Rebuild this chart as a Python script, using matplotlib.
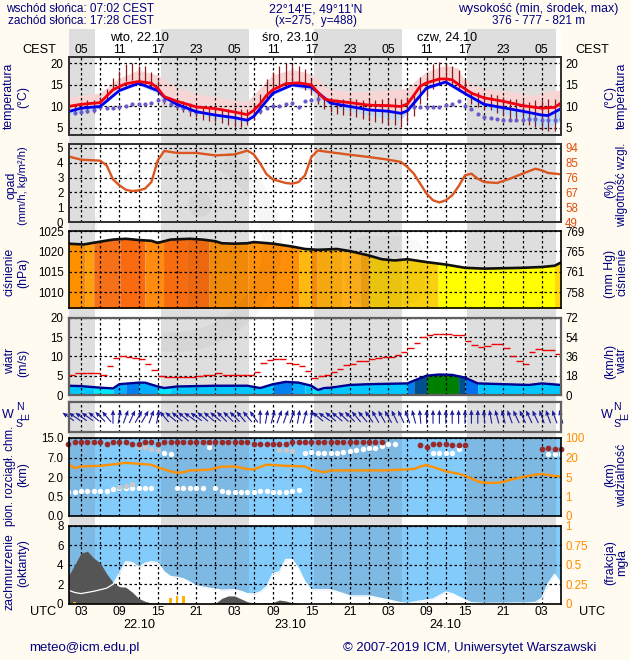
import numpy as np
import matplotlib
matplotlib.use("Agg")
import matplotlib.pyplot as plt
from matplotlib.patches import Wedge, Circle, FancyBboxPatch

plt.rcParams['font.family'] = ['Liberation Sans', 'DejaVu Sans']

# ---- data (hours since 22.10 00 UTC) ----
night = [(1.125, 5.2), (15.5, 29.2), (39.4, 53.2), (63.3, 77.2)]

t_h = [1,3,6,8,10,12,14,15,16,18,21,24,27,29,30,31,32,33,35,37,39,40,41,42,45,48,51,53,54,55,56,57,59,60,61,62,63,64,66,69,72,75,77,78]
t_red = [10,10.5,10.9,13.9,15.3,15.8,15.4,14.2,12.3,11.2,9.9,9.5,8.7,8.1,9.1,10.6,12.6,13.9,15.3,15.5,15,13.3,11.8,11.4,10.9,10.3,10.2,10,10.6,12.6,14.7,15.5,16.4,16.4,16.2,15.1,14.1,13.1,12,11.2,10.2,9.6,9.8,10.8]
b_h = [1,3,6,9,12,15,16,18,21,24,27,29,30,33,36,39,42,45,48,51,53,54,57,60,63,66,69,72,75,76,78]
t_blue = [8.8,9.6,10,13.7,15.4,13.7,12.2,10.5,8.8,8,7.4,6.8,7.7,13.1,15,14.5,10.8,10,9.2,8.9,8.4,9,14.3,15.7,13,10.5,9.7,8.9,8,7.9,9.5]
pink_h = [1,6,9,12,15,18,21,27,29,33,36,39,42,45,51,54,57,60,62,63,66,72,74,75,78]
pink_up = [12,13,16.4,18.4,17.2,14.3,12.9,11.4,11,17.2,18.5,17.5,13.9,13.3,13.7,14.1,18,19.5,18.8,16,14.1,13,12.4,13.3,13.7]
low_h = [1,6,9,12,15,18,24,29,33,36,39,42,48,53,57,60,63,66,69,72,75,76,78]
blue_low = [8,9.5,13.3,14.9,13,9.8,7.1,6.2,12.5,14.6,13.6,9.8,7.9,6.7,13.7,15.3,12.6,9.7,8.3,7.1,5.2,5,6.4]
dew_h = [2,3,4,5,6,7,8,9,10,11,12,13,14,15,16,17,18,19,20,21,31,32,33,34,35,36,37,38,39,40,55,56,57,58,59,60,61,62,63,64,65,66,67,68,69,70,71,72,73,74,75,76,77,78]
dew = [8.5,8.8,8.9,9.1,9.9,9.7,9.6,9.9,10.2,10.5,10.5,10.6,10.8,11.5,11.4,10.6,10,9.7,9.1,8.7,8.9,9.7,10.2,10.2,10.5,10.8,9.9,11.2,11.5,11.8,9.9,9.9,9.9,9.8,9.9,10.3,10.6,11.2,10.1,9.4,8.2,7.6,7.4,7,6.9,6.8,6.8,6.9,7.2,7.1,6.9,6.8,6.9,7.2]
bar_h = list(range(2, 78))
bar_top = [10.5,11,11.4,11.4,12.2,14.1,16.7,18.2,19.8,20.2,19.5,19.4,18,16,12.6,12,11.4,11.2,10.8,10.2,10.2,9.8,9.7,9.7,9.5,9.5,9.5,9.5,10.6,12.9,16.4,18.1,19.3,20.2,19.9,19.4,18.8,16.4,13.7,12.2,11.9,11.7,11.8,11.9,11.7,11.4,11.8,11.6,11.8,11.8,11.9,11.8,12.2,12.6,16.8,17.4,19.8,20.3,19.9,19.4,18.4,16.4,13.7,13.3,12.6,12.9,12.6,12.2,11.8,11.8,11.4,11,11.4,11.4,11.8,11.8]
bar_bot = [8.3,8.4,8.4,8.4,10,11.4,14.3,15.1,15.9,16.2,15.8,15.3,14.5,13.3,10.6,10,9.5,8.7,7.9,7.5,6.9,6.6,6.4,6.1,5.8,5.3,5.3,5.8,6.9,8.3,11.4,13.3,14.3,15.3,15.1,14.7,13.9,12.9,10.6,9.5,8.7,8.3,8.1,7.9,7.5,7.1,6.7,6.4,6.1,5.8,5.6,5.2,6.4,7.9,10.6,12.2,14.1,14.9,15.3,14.9,14.1,12.6,10.6,9.8,9.5,9.1,8.4,7.9,7.1,6.7,6.4,5.8,5.2,4.8,4.4,4.3]

rh_h = [1,3,6,7,8,9,10,11,12,13,14,15,16,18,21,24,27,29,30,31,32,33,35,36,37,38,39,40,42,45,48,51,53,54,55,56,57,58,59,60,61,62,63,64,65,66,68,70,72,74,75,76,78]
rh = [88.9,86.9,86.3,83.5,74.9,71.3,68.6,67.8,68.2,69.3,73.3,86.5,92.2,91,91,89.5,90.1,92.4,90.1,84.5,78,74.9,72.7,72.3,73.3,77.4,88.5,92.5,91.4,89.9,88.5,86.9,85.5,82.4,78.4,72.3,66.2,62.2,60.9,62.2,65.2,70.7,77.4,78.4,75.3,73.3,72.7,75.3,78.4,81.4,80.4,78.8,78]

p_h = [1,3.4,6,8,10,12,14,15,17,20,22,24,25,27,29,30,33,36,38,39,40,43,45,48,50,52,54,57,60,63,66,72,75,77,78]
pres = [1021.9,1021.7,1022.4,1022.9,1023.1,1022.8,1022.6,1022.1,1022.9,1023.1,1022.9,1022.5,1022,1021.9,1022,1022.3,1021.9,1021.2,1020.6,1020.5,1020.4,1020.6,1020.1,1019,1018.1,1017.8,1018.1,1017.4,1016.8,1016,1015.8,1016,1016.2,1016.5,1017.3]
p_edges = [1.125,3.1,3.6,5,9.1,13,15.9,19.5,23,29.1,37,39,39.9,43.7,46.6,48,53.1,58.8,77,78]
p_cols = ['#FF9000','#F88808','#FFA010','#F57018','#FA6A10','#FF8B10','#F86C10','#EC6810','#F08808','#FF8F08','#FFB810','#F88C08','#F5A810','#FFB018','#F0A010','#F0C810','#F8D010','#FFFF00','#FFD810']

w_h = [1,3,6,8,9,12,13,15,16,18,24,29,31,33,35,37,39,40,41,42,45,48,54,55,57,59,61,63,65,69,73,75,78]
wind = [2.4,2.3,1.9,1.7,2.8,3.2,3.2,2.2,1.8,2.2,2.4,2.4,1.8,2.8,3.4,3.2,2.4,1.3,1.8,1.9,2.6,2.8,3,3.7,5,5.3,5.2,4.5,3,2.8,2.6,3,2.6]
w_edges = [1.125,5,8,10,12,15,17,33,36,38,39.3,40,54,55,57,62,63,65,78]
w_cols = ['#00C8FF','#00E8FF','#00B0FF','#0080F0','#00B0FF','#00E8FF','#00C8FF','#0080F0','#00B0FF','#00C8FF','#00E8FF','#00C8FF','#0080F0','#005090','#008000','#005090','#0070F0','#00C8FF']
gust = [5.3,5.6,5.6,5.6,5.6,5.3,7.5,9.6,10,9.8,9.6,9.2,8,6.4,4.9,4.7,4.7,4.7,4.7,4.7,4.9,5.2,5.2,5.6,5.3,5.3,5.3,5.3,5.3,5.9,8.4,9,9.2,9.2,8.4,8,7.5,6.2,4.4,4.9,5.3,6,6.7,7.7,8,8.8,8.8,9.2,9.6,9.8,9.8,10.3,11.1,12.2,13.4,15,15.5,15.8,15.8,15.8,15.5,15.5,13.9,12.9,12.4,12.7,13.2,13.2,12.2,10.1,8.7,8,11,11.8,11.6,11.6,10.5]
wdir = [-55,-55,-55,-55,-50,-45,-40,0,10,20,25,30,30,20,10,-40,-50,-50,-50,-55,-55,-50,-50,-50,-45,-45,-45,-40,-40,-35,0,10,15,20,20,20,10,15,10,-50,-55,-50,-50,-45,-45,-40,-40,-35,-30,-30,-30,-25,-25,-20,-15,-5,0,0,0,0,0,0,0,0,0,-5,-10,-15,-15,-20,-25,-25,-25,-25,-20,-20,-20,-15]

cb_top_h = list(range(1,51)) + [56,57,58,59,60,61,62,63,75,76,77,78]
cb_top = [12.7,13.5,13.5,13.5,13.5,13.5,12.7,13.5,13.5,13.5,12.7,12.7,13.5,13.5,12.7]+[13.5]*14+[12.7]*6+[13.5]*15+[12,11.2,12.7,12.7,12.7,12,12,12,10.4,10.8,10.4,10.4]
cb_white_h = [1,2,3,4,5,6,7,8,9,10,11,12,13,14,18,19,20,21,22,24,25,26,27,28,29,30,31,32,33,34,35,36,37]
cb_white = [.87,.87,.89,.92,.92,.92,.94,1.05,1.13,1.13,1.15,1.13,1.13,1.13,1.13,1.13,1.13,1.18,1.18,1.13,.94,.87,.87,.87,.87,.87,.89,.89,.87,.87,.87,.92,.98]
cb_up_h = [16,17,23,38,39,40,41,42,43,44,45,46,47,48,49,50,51,52,58,59,60,61,62,76,77,78]
cb_up = [8.7,8.4,11.2,9,9.3,9,9,9,9,9.3,9.6,10,10.4,10.9,11,11.6,12.4,12.4,8.7,8.7,8.7,8.7,10.5,8.4,8.4,8.4]
cb_gray_h = [9,10,11,12,13,14,15,34,35,36]
cb_gray = [1.26,1.3,1.46,11.2,11.2,10.5,10,10,10,9.7]

vis_h = [1,2,3,6,8,10,12,14,15,17,18,19,20,23,25,27,29,30,32,35,38,39,40,41,42,45,50,53,55,56,57,59,60,62,63,65,66,68,69,70,72,74,75,77,78]
vis = [14.9,11.9,13.1,13.6,14.7,15.9,15.2,14.4,12.4,9.3,8.3,8.6,10.1,10.6,12.9,13.1,11.1,10.8,14.5,13.6,13.1,10.6,9.8,8.6,10.1,10.1,10.1,10.6,11.1,13.1,14.2,11.1,9.3,7.5,6,4.1,3.8,3.8,4,4.4,5,6.8,7.3,5.8,5.5]

low_h_c = [1,2,3,4,5,6,7,8,9,10,11,12,13,14,15,24,25,26,27,28,29,30,33,34,35,36,37,78]
cl_low = [2.8,4,5.2,5.4,4.7,4.2,3.1,2.2,1.75,1.7,1.2,.55,.25,.07,.03,.03,.55,.8,.8,.5,.2,.06,.13,.38,.28,.1,0,0]
mist_h = [1,2,3,5,7,8,9,10,11,12,13,14,15,16,17,18,19,20,21,23,25,27,28,29,30,31,32,33,34,35,36,37,38,39,41,42,44,45,48,51,53,54,56,58,60,61,62,63,64,66,73,74,75,76,77,78]
mist = [.175,.145,.13,.16,.2,.25,.39,.54,.53,.47,.52,.54,.53,.41,.35,.34,.32,.28,.23,.2,.175,.18,.16,.13,.125,.15,.22,.39,.41,.57,.57,.45,.28,.18,.18,.18,.13,.1,.1,.05,.013,.005,.035,.06,.15,.13,.09,.05,.013,.005,.01,.017,.07,.26,.38,.26]
rain_h = [2,17,18,19]
rain = [.15,.55,.8,.8]

hour_ticks = [3,9,15,21,27,33,39,45,51,57,63,69,75]
cest_lab = ['05','11','17','23','05','11','17','23','05','11','17','23','05']
utc_lab = ['03','09','15','21','03','09','15','21','03','09','15','21','03']

W, H = 630, 660
NAVY = '#000080'
BG = '#FFFBF0'
TICK = 8.0
fig = plt.figure(figsize=(W/100, H/100), dpi=100, facecolor=BG)
X0, PPH = 61.8, 6.4
def hx(h): return X0 + PPH*h
XL = (1.125, 78.0)

bg = fig.add_axes([0, 0, 1, 1])
bg.set_xlim(-X0/PPH, (W-X0)/PPH)
bg.set_ylim(H, 0)
bg.axis('off')
bg.axvspan(XL[0], XL[1], ymin=1-601/H, ymax=1-29/H, color='white', lw=0)
for a, b in night:
    bg.axvspan(a, b, ymin=1-601/H, ymax=1-29/H, color='#DEDEDE', lw=0)

def txt(x, y, s, **k):
    k.setdefault('color', NAVY); k.setdefault('fontsize', 9.2)
    k.setdefault('ha', 'center'); k.setdefault('va', 'center')
    fig.text(x/W, 1-y/H, s, **k)

def panel(y0, y1, ylim, yticks, ylabels, edge='#303030', lw=1.4):
    ax = fig.add_axes([69/W, 1-y1/H, (561-69)/W, (y1-y0)/H])
    ax.set_facecolor('none')
    ax.set_xlim(*XL); ax.set_ylim(*ylim)
    ax.set_xticks(np.arange(3, 78, 3)); ax.set_xticklabels([])
    ax.set_yticks(yticks); ax.set_yticklabels(ylabels, fontsize=TICK+0.3)
    ax.tick_params(length=0, pad=4)
    ax.grid(True, color='black', lw=0.9, ls=(0, (2, 2)), zorder=6)
    ax.set_axisbelow(False)
    for s in ax.spines.values():
        s.set_color(edge); s.set_linewidth(lw); s.set_zorder(8)
    return ax

def right(ax, ticks, labels, color='black'):
    ax2 = ax.twinx()
    ax2.set_ylim(ax.get_ylim())
    ax2.set_yticks(ticks); ax2.set_yticklabels(labels, fontsize=TICK+0.3, color=color)
    ax2.tick_params(length=0, pad=3)
    ax2.set_facecolor('none')
    for s in ax2.spines.values():
        s.set_visible(False)
    return ax2

# temperature
a1 = panel(57, 135, (3.37, 21.5), [5,10,15,20], ['5','10','15','20'])
right(a1, [5,10,15,20], ['5','10','15','20'])
a1.fill(np.r_[pink_h, b_h[::-1]], np.r_[pink_up, t_blue[::-1]], color='#F8D5D5', lw=0, zorder=1)
a1.fill(np.r_[b_h, low_h[::-1]], np.r_[t_blue, blue_low[::-1]], color='#BCDCFA', lw=0, zorder=2)
a1.vlines(bar_h, bar_bot, bar_top, color='#8C1A1A', lw=0.9, zorder=3)
a1.scatter(dew_h, dew, s=9, color='#6A5CC8', lw=0, zorder=4)
a1.plot(b_h, t_blue, color='#0000F0', lw=2.0, zorder=5)
a1.plot(t_h, t_red, color='#F00010', lw=2.0, zorder=5.5)

# precipitation / humidity
a2 = panel(144, 222, (0, 5.27), [0,1,2,3,4,5], ['0','1','2','3','4','5'])
right(a2, [0,1,2,3,4,5], ['49','58','67','76','85','94'], color='#E05010')
a2.plot(rh_h, (np.array(rh)-49)/9, color='#DB5520', lw=1.7, zorder=5)

# pressure
a3 = panel(231, 308.3, (1006.1, 1025), [1010,1015,1020,1025], ['1010','1015','1020','1025'], edge='black', lw=1.2)
right(a3, [1010,1015,1020,1025], ['758','761','765','769'])
for i, c in enumerate(p_cols):
    m = np.linspace(p_edges[i], p_edges[i+1], 8)
    a3.fill_between(m, 1006.1, np.interp(m, p_h, pres), color=c, lw=0, zorder=2)
a3.plot(p_h, pres, color='#101010', lw=1.9, zorder=5)

# wind
a4 = panel(317.7, 395, (0, 20), [0,5,10,15,20], ['0','5','10','15','20'], edge='#606060', lw=1.6)
right(a4, [0,5,10,15,20], ['0','18','36','54','72'])
for i, c in enumerate(w_cols):
    m = np.linspace(w_edges[i], w_edges[i+1], 8)
    a4.fill_between(m, 0, np.interp(m, w_h, wind), color=c, lw=0, zorder=2)
a4.plot(w_h, wind, color='#000090', lw=1.7, zorder=5)
gh = np.arange(1, 78)
a4.hlines(gust, gh, gh+1, color='#F00000', lw=1, zorder=5)

# wind direction
a5 = panel(401.7, 431.7, (0, 1), [], [], edge='#606060', lw=1.6)
wr = np.radians(wdir)
a5.quiver(np.arange(1, 79), np.full(78, 0.5), 14*np.sin(wr), 14*np.cos(wr), angles='uv',
          scale_units='dots', scale=1, units='dots', width=1.1, headwidth=4.2, headlength=5,
          headaxislength=4.5, pivot='mid', color='#1A1A9A', clip_on=False, zorder=7)

# cloud base / visibility
lv = [0, 1, 2, 3, 4]
km = [0, .5, 2, 7, 15]
vk = [0, 1, 5, 20, 100]
def fw(v): return np.interp(v, km, lv)
def gw(v): return np.interp(v, vk, lv)
a6 = panel(438, 516, (0, 4), [0,1,2,3,4], ['0.0','0.5','2.0','7.0','15.0'], edge='black', lw=1.2)
right(a6, [0,1,2,3,4], ['0','1','5','20','100'], color='#FF8C00')
a6.axvspan(*XL, color='#82CBFB', lw=0, zorder=1)
for a, b in night:
    a6.axvspan(a, b, color='#7EB9E3', lw=0, zorder=1.5)
a6.plot(vis_h, gw(vis), color='#FF9000', lw=1.7, zorder=3)
a6.scatter(cb_white_h, fw(cb_white), s=15, color='white', lw=0, zorder=4)
a6.scatter(cb_up_h, fw(cb_up), s=15, color='white', lw=0, zorder=4)
a6.scatter(cb_gray_h, fw(cb_gray), s=15, color='#C8C8C8', lw=0, zorder=4)
a6.scatter(cb_top_h, fw(cb_top), s=17, color='#992A2A', lw=0, zorder=5, clip_on=False)

# cloudiness
a7 = panel(526, 603.7, (0, 8), [0,2,4,6,8], ['0','2','4','6','8'], edge='black', lw=1.2)
right(a7, [0,2,4,6,8], ['0','0.25','0.5','0.75','1'], color='#FF8C00')
a7.axvspan(*XL, color='#82CBFB', lw=0, zorder=1)
for a, b in night:
    a7.axvspan(a, b, color='#7EB9E3', lw=0, zorder=1.5)
mv = np.array(mist)*8
a7.fill_between(mist_h, 0, mv, color='white', lw=0, zorder=2)
a7.fill_between(low_h_c, 0, cl_low, color='#555555', lw=0, zorder=3)
a7.plot(mist_h, mv, color='white', lw=0.9, zorder=4)
a7.bar(rain_h, rain, width=0.35, color='#FFB000', lw=0, zorder=5)

# faint watermark over the middle panels
wm = fig.add_axes([0, 0, 1, 1], zorder=20)
wm.set_xlim(0, W); wm.set_ylim(H, 0); wm.axis('off'); wm.patch.set_alpha(0)
wm.add_patch(Wedge((175, 245), 107, -60, 98, width=20, color='black', alpha=0.035, lw=0))
wm.add_patch(Wedge((175, 245), 85, 190, 270, width=5, color='black', alpha=0.03, lw=0))
wm.add_patch(Circle((200, 205), 12, color='black', alpha=0.035, lw=0))
wm.add_patch(FancyBboxPatch((345, 236), 80, 70, boxstyle='round,pad=0,rounding_size=26', color='black', alpha=0.025, lw=0))

# hour tick labels
for h, s, u in zip(hour_ticks, cest_lab, utc_lab):
    txt(hx(h), 50, s, color='black', fontsize=8.8)
    txt(hx(h), 612, u, color='black', fontsize=8.8)
txt(39, 50, 'CEST', color='black'); txt(592, 50, 'CEST', color='black')
txt(43, 612, 'UTC', color='black'); txt(592, 612, 'UTC', color='black')
txt(139, 37, 'wto, 22.10', color='black'); txt(290, 37, 'śro, 23.10', color='black'); txt(447, 37, 'czw, 24.10', color='black')
txt(139, 625, '22.10', color='black'); txt(290, 625, '23.10', color='black'); txt(445, 625, '24.10', color='black')

# header/footer
txt(6, 9, 'wschód słońca: 07:02 CEST', ha='left', fontsize=8.45)
txt(8, 21, 'zachód słońca: 17:28 CEST', ha='left', fontsize=8.45)
txt(315.5, 9, "22°14'E, 49°11'N", fontsize=8.9)
txt(315.5, 21, '(x=275,  y=488)', fontsize=8.4)
txt(538, 9, 'wysokość (min, środek, max)', fontsize=8.9)
txt(539, 21, '376 - 777 - 821 m', fontsize=8.5)
txt(29, 648, 'meteo@icm.edu.pl', ha='left', fontsize=9.5)
txt(343, 648, '© 2007-2019 ICM, Uniwersytet Warszawski', ha='left', fontsize=9.45)

# side labels
def side(x, y, s, fs=8.8):
    txt(x, y, s, rotation=90, fontsize=fs)
side(9, 96, 'temperatura'); side(23, 97, '(°C)')
side(11, 185, 'opad'); side(23, 186, '(mm/h, kg/m²/h)', fs=8.0)
side(10, 272, 'ciśnienie'); side(23, 273, '(hPa)')
side(10, 361, 'wiatr'); side(23, 363, '(m/s)')
side(10, 476, 'pion. rozciągł. chm.', fs=8.4); side(23, 475, '(km)')
side(10, 572, 'zachmurzenie'); side(23, 563, '(oktanty)')
side(622, 96, 'temperatura'); side(610, 97, '(°C)')
side(622, 185, 'wilgotność wzgl.', fs=8.4); side(610, 188, '(%)')
side(622, 272, 'ciśnienie'); side(610, 274, '(mm Hg)')
side(622, 361, 'wiatr'); side(610, 361, '(km/h)')
side(622, 475, 'widzialność'); side(610, 475, '(km)')
side(622, 563, 'mgła'); side(610, 563, '(frakcja)')

for (xw, xn, xe) in [(8, 19.5, 26), (607, 617, 625)]:
    txt(xw, 415, 'W', fontsize=9.0)
    txt(xn, 406.5, 'N', fontsize=7.6)
    txt(xe, 416, 'E', rotation=90, fontsize=7.6)
    txt(xn, 424, 'S', fontsize=7.6)

fig.savefig('out.png', dpi=100, facecolor=fig.get_facecolor())
